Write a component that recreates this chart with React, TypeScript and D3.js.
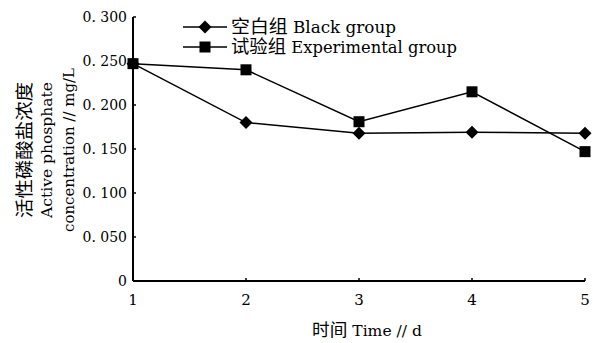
import React from 'react';
import * as d3 from 'd3';

const days = [1, 2, 3, 4, 5];
const blankGroup = [0.247, 0.180, 0.168, 0.169, 0.168];
const expGroup = [0.247, 0.240, 0.181, 0.215, 0.147];
const yTicks = [0, 0.05, 0.1, 0.15, 0.2, 0.25, 0.3];
const yTickLabels = ['0', '0. 050', '0. 100', '0. 150', '0. 200', '0. 250', '0. 300'];
const seriesCn = ['空白组', '试验组'];
const seriesEn = ['Black group', 'Experimental group'];

const W = 593, H = 343;
const left = 133, right = 585, top = 17, bottom = 281;
const font = 'DejaVu Serif, Liberation Serif, Noto Sans CJK SC, serif';

const Diamond = ({x, y}) => (
  <path d={`M${x},${y - 6.5}L${x + 6.5},${y}L${x},${y + 6.5}L${x - 6.5},${y}Z`} fill="black" />
);
const Square = ({x, y}) => (
  <rect x={x - 5.5} y={y - 5.5} width={11} height={11} fill="black" />
);

function App() {
  const xScale = d3.scaleLinear().domain([1, 5]).range([left, right]);
  const yScale = d3.scaleLinear().domain([0, 0.3]).range([bottom, top]);
  const line = d3.line<number>().x((d, i) => xScale(days[i])).y(d => yScale(d));

  return (
    <svg width={W} height={H} style={{position: 'absolute', left: 0, top: 0, background: 'white'}}>
      {/* axes */}
      <line x1={left} x2={left} y1={top} y2={bottom} stroke="black" strokeWidth={2} />
      <line x1={left} x2={right} y1={bottom} y2={bottom} stroke="black" strokeWidth={2} />
      {yTicks.map((t, i) => (
        <g key={t}>
          <line x1={left} x2={left + 3} y1={yScale(t)} y2={yScale(t)} stroke="black" strokeWidth={1.5} />
          <text x={left - 6} y={yScale(t)} dy="0.35em" textAnchor="end" fontFamily={font} fontSize={14}>{yTickLabels[i]}</text>
        </g>
      ))}
      {days.map(d => (
        <g key={d}>
          <line x1={xScale(d)} x2={xScale(d)} y1={bottom} y2={bottom - 3} stroke="black" strokeWidth={1.5} />
          <text x={xScale(d)} y={bottom + 19} dy="0.35em" textAnchor="middle" fontFamily={font} fontSize={15}>{d}</text>
        </g>
      ))}
      {/* series */}
      <path d={line(blankGroup) || ''} fill="none" stroke="black" strokeWidth={1.5} />
      <path d={line(expGroup) || ''} fill="none" stroke="black" strokeWidth={1.5} />
      {blankGroup.map((v, i) => <Diamond key={'b' + i} x={xScale(days[i])} y={yScale(v)} />)}
      {expGroup.map((v, i) => <Square key={'e' + i} x={xScale(days[i])} y={yScale(v)} />)}
      {/* legend */}
      <line x1={183} x2={227} y1={27} y2={27} stroke="black" strokeWidth={1.5} />
      <Diamond x={205} y={27} />
      <text x={231} y={27} dy="0.35em" fontFamily={font} fontSize={16} textLength={165} lengthAdjust="spacingAndGlyphs">
        <tspan fontSize={18}>{seriesCn[0]}</tspan> {seriesEn[0]}
      </text>
      <line x1={183} x2={227} y1={47} y2={47} stroke="black" strokeWidth={1.5} />
      <Square x={205} y={47} />
      <text x={231} y={47} dy="0.35em" fontFamily={font} fontSize={16} textLength={226} lengthAdjust="spacingAndGlyphs">
        <tspan fontSize={18}>{seriesCn[1]}</tspan> {seriesEn[1]}
      </text>
      {/* axis titles */}
      <g transform="translate(25,150) rotate(-90)">
        <text textAnchor="middle" dy="0.35em" fontFamily={font} fontSize={18} textLength={136} lengthAdjust="spacingAndGlyphs">活性磷酸盐浓度</text>
      </g>
      <g transform="translate(47,150) rotate(-90)">
        <text textAnchor="middle" dy="0.35em" fontFamily={font} fontSize={15} textLength={136} lengthAdjust="spacingAndGlyphs">Active phosphate</text>
      </g>
      <g transform="translate(69,150) rotate(-90)">
        <text textAnchor="middle" dy="0.35em" fontFamily={font} fontSize={15} textLength={164} lengthAdjust="spacingAndGlyphs">concentration // mg/L</text>
      </g>
      <text x={367} y={331} dy="0.35em" textAnchor="middle" fontFamily={font} fontSize={15} textLength={110} lengthAdjust="spacingAndGlyphs">
        <tspan fontSize={17}>时间</tspan> Time // d
      </text>
    </svg>
  );
}

export default App;
